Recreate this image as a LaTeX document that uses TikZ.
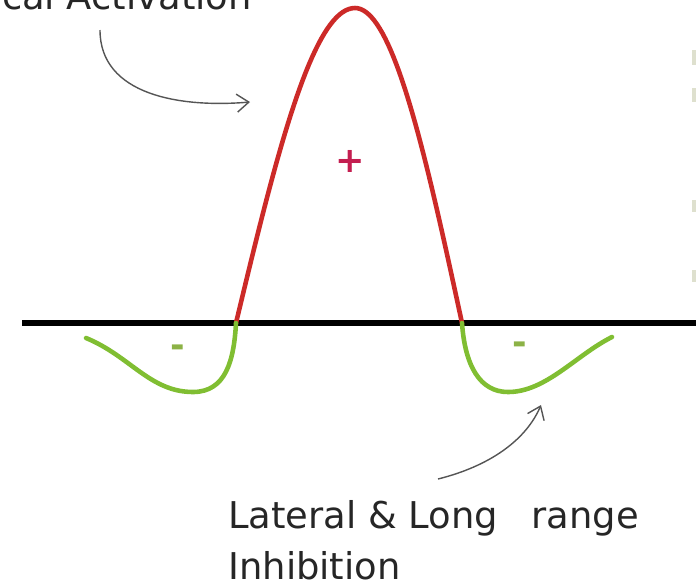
\documentclass[tikz,border=0pt]{standalone}
\usepackage{fontspec}
\setmainfont{DejaVu Sans}
\usepackage{xcolor}
\usetikzlibrary{arrows.meta,positioning}
\definecolor{actred}{RGB}{204,42,40}
\definecolor{inhgreen}{RGB}{128,190,50}
\definecolor{signgreen}{RGB}{140,178,70}
\definecolor{signred}{RGB}{196,30,80}
\definecolor{pgray}{RGB}{85,85,85}
\definecolor{speck}{RGB}{222,224,206}

\begin{document}
\begin{tikzpicture}[x=0.02cm,y=-0.02cm,
  curve/.style={line width=2.6pt,line cap=round},
  excite/.style={curve,draw=actred},
  inhibit/.style={curve,draw=inhgreen},
  axis/.style={line width=2.9pt,draw=black},
  pointer/.style={-{Straight Barb[length=2.4mm,width=3.6mm]},line width=0.8pt,draw=pgray},
  label/.style={font=\fontsize{21}{25}\selectfont,text=black!85,inner sep=0pt},
  sign/.style={font=\fontsize{20}{20}\selectfont\bfseries,inner sep=0pt}
]
\useasboundingbox (0,0) rectangle (696,586);
% baseline
\coordinate (axisL) at (22,323);
\coordinate (axisR) at (696,323);
\draw[axis] (axisL) -- (axisR);
% central activation
\draw[excite] plot[domain=-1:0,samples=40,variable=\t] ({355+119*\t},{323-315*cos(90*\t)})
  -- plot[domain=0:1,samples=40,variable=\t] ({355+107*\t},{323-315*cos(90*\t)});
% surround inhibition
\draw[inhibit] (86,338) .. controls (130,356) and (150,392) .. (193,392)
  .. controls (226,392) and (234,360) .. (236,323);
\draw[inhibit] (462,323) .. controls (465,366) and (480,392) .. (508,392)
  .. controls (546,392) and (576,355) .. (612,337);
% signs
\node[sign,text=signred] (plus) at (350,161) {+};
\node[sign,text=signgreen] (minusL) at (178,351) {-};
\node[sign,text=signgreen] (minusR) at (520,348) {-};
% labels
\node[label,anchor=base east] (actlabel) at (252,9) {Local Activation};
\node[label,anchor=base west] (inhlabel) at (228,528) {Lateral \& Long\hspace{0.9em}range};
\node[label,anchor=base west] (inhlabel2) at (228,579) {Inhibition};
% pointers
\coordinate (actfrom) at (100,30);
\coordinate (actto) at (250,102);
\coordinate (inhfrom) at (438,479);
\coordinate (inhto) at (541,405);
\draw[pointer] (actfrom) .. controls (100,95) and (180,108) .. (actto);
\draw[pointer] (inhfrom) .. controls (490,466) and (526,440) .. (inhto);
% specks on right edge
\foreach \y/\h in {50/15,88/14,200/12,270/12}
  \fill[speck] (692,\y) rectangle (696,\y+\h);
\end{tikzpicture}
\end{document}
